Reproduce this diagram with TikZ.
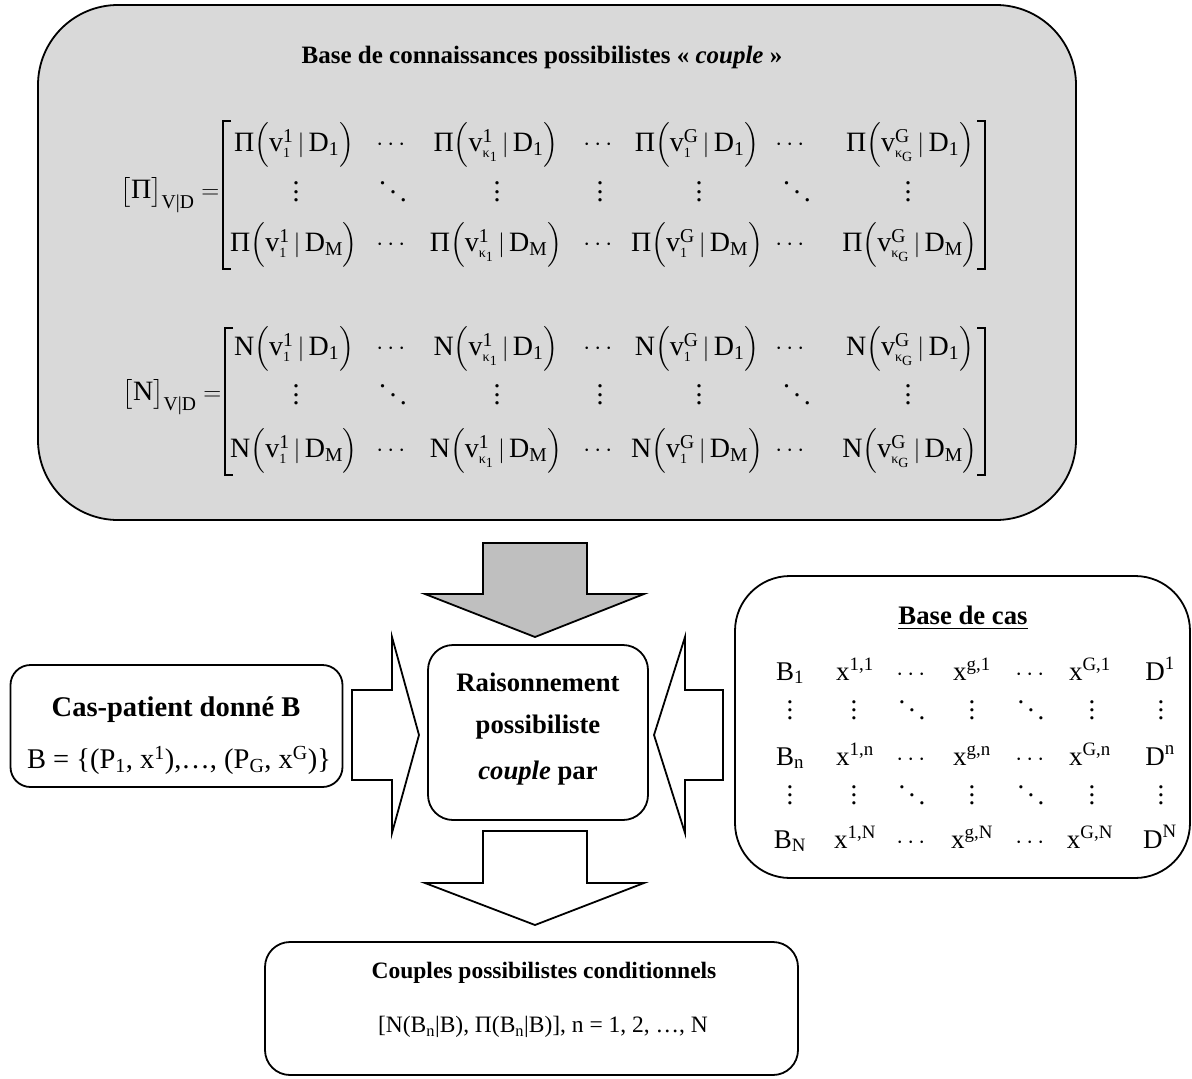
\documentclass[tikz,border=0pt]{standalone}
\usepackage{amsmath}
\usepackage{fontspec}
\setmainfont{Liberation Serif}

\definecolor{kbgray}{RGB}{217,217,217}
\definecolor{arrgray}{RGB}{191,191,191}

% entree de matrice : Op(v^a_b | D_c)
\newcommand{\pent}[4]{\text{#1}\Bigl(\text{v}^{\text{#2}}_{#3}\,|\,\text{D}_{\text{#4}}\Bigr)}
\newcommand{\subone}{\scriptscriptstyle\text{1}}
\newcommand{\subkone}{\scriptscriptstyle\text{κ}_{\text{1}}}
\newcommand{\subkG}{\scriptscriptstyle\text{κ}_{\text{G}}}
% points a l'echelle de la fonte
\newcommand{\vdts}{\vbox{\baselineskip=0.3em\lineskiplimit=0pt\hbox{.}\hbox{.}\hbox{.}}}
\newcommand{\ddts}{\raisebox{0.62em}{.}\kern0.12em\raisebox{0.32em}{.}\kern0.12em\raisebox{0.02em}{.}}

\tikzset{
bigbox/.style={draw,rectangle,line width=1.8pt,fill=white},
blockarrow/.style={draw,line width=1.8pt,line join=miter,fill=white},
brk/.style={line width=1.2pt},
txt/.style={font=\fontsize{#1}{#1}\selectfont,inner sep=0pt},
txt/.default=25,
bold/.style={font=\fontsize{#1}{#1}\selectfont\bfseries,inner sep=0pt},
bold/.default=25,
mtx/.style={font=\fontsize{28}{33}\selectfont,inner sep=0pt},
cas/.style={font=\fontsize{27}{32}\selectfont,inner sep=0pt}
}

\begin{document}
\begin{tikzpicture}[x=1pt,y=-1pt]
\useasboundingbox (0,0) rectangle (1192,1079);

% base de connaissances
\node[bigbox,fill=kbgray,rounded corners=80pt,
minimum width=1038pt,minimum height=515pt](kb) at (557,262.5){};

\node[bold](kbtitle) at (542,57){Base de connaissances possibilistes « \textit{couple} »};

\node[mtx](pilab) at (170,195){$\bigl[\text{Π}\bigr]_{\text{V|D}}=$};
\node[mtx](neclab) at (172,397){$\bigl[\text{N}\bigr]_{\text{V|D}}=$};

\foreach \Op/\nm/\ya/\yb/\yc in {Π/pi/145/192/245, N/nec/349/395/451}{
  \foreach \rw/\Dn/\yy in {1/1/\ya, 3/M/\yc}{
    \foreach \cl/\cx/\vs/\vi in {1/294/1/\subone, 3/496/1/\subkone, 5/697/G/\subone, 7/910/G/\subkG}
      \node[mtx](\nm-\rw-\cl) at (\cx,\yy){$\pent{\Op}{\vs}{\vi}{\Dn}$};
    \foreach \cl/\cx in {2/393, 4/600, 6/792}
      \node[mtx](\nm-\rw-\cl) at (\cx,\yy){$\cdots$};
  }
  \foreach \cl/\cx in {1/296, 3/497, 4/600, 5/699, 7/908}
    \node[mtx](\nm-2-\cl) at (\cx,\yb){\vdts};
  \foreach \cl/\cx in {2/393, 6/797}
    \node[mtx](\nm-2-\cl) at (\cx,\yb){\ddts};
}

% crochets
\draw[brk] (231,121) -- (223,121) -- (223,269) -- (231,269);
\draw[brk] (977,121) -- (985,121) -- (985,269) -- (977,269);
\draw[brk] (233,328) -- (225,328) -- (225,475) -- (233,475);
\draw[brk] (977,328) -- (985,328) -- (985,475) -- (977,475);

% fleche grise
\draw[blockarrow,fill=arrgray] (483,543) -- (587,543) -- (587,594) -- (644,594)
 -- (535,637) -- (425,594) -- (483,594) -- cycle;

% raisonnement
\node[bigbox,rounded corners=25pt,
minimum width=220pt,minimum height=175pt](reason) at (538,732.5){};
\node[bold=26.7](r1) at (538,682){Raisonnement};
\node[bold=26.7](r2) at (538,727){possibiliste};
\node[bold=26.7](r3) at (538,773){\textit{couple} par};

% cas-patient
\node[bigbox,rounded corners=20pt,
minimum width=332pt,minimum height=122pt](patient) at (176.5,726){};
\node[bold=28.5](ptitle) at (176,710){Cas-patient donné B};
\node[txt=28.5](pform) at (179,760){B = \{(P\textsubscript{1}, x\textsuperscript{1}),…, (P\textsubscript{G}, x\textsuperscript{G})\}};

\draw[blockarrow] (352,690) -- (392,690) -- (392,637) -- (419,735)
 -- (392,833) -- (392,780) -- (352,780) -- cycle;

% base de cas
\node[bigbox,rounded corners=55pt,
minimum width=455pt,minimum height=302pt](cases) at (962.5,727){};
\node[bold=26.7](ctitle) at (963,618){\underline{Base de cas}};

\foreach \rw/\yy in {1/680, n/765, N/848}{
  \node[cas,anchor=base](b-\rw-1) at (790,\yy){$\text{B}_{\text{\rw}}$};
  \foreach \cl/\cx/\gi in {2/855/1, 4/972/g, 6/1090/G}
    \node[cas,anchor=base](b-\rw-\cl) at (\cx,\yy){$\text{x}^{\text{\gi,\rw}}$};
  \foreach \cl/\cx in {3/913, 5/1032}
    \node[cas,anchor=base](b-\rw-\cl) at (\cx,\yy){$\cdots$};
  \node[cas,anchor=base](b-\rw-7) at (1160,\yy){$\text{D}^{\text{\rw}}$};
}
\foreach \rw/\yy in {d1/710, d2/795}{
  \foreach \cl/\cx in {1/790, 2/854, 4/972, 6/1092, 7/1161}
    \node[cas](b-\rw-\cl) at (\cx,\yy){\vdts};
  \foreach \cl/\cx in {3/912, 5/1031}
    \node[cas](b-\rw-\cl) at (\cx,\yy){\ddts};
}

\draw[blockarrow] (723,690) -- (685,690) -- (685,637) -- (654,735)
 -- (685,833) -- (685,780) -- (723,780) -- cycle;

% resultat
\draw[blockarrow] (483,831) -- (587,831) -- (587,883) -- (644,883)
 -- (535,925) -- (425,883) -- (483,883) -- cycle;

\node[bigbox,rounded corners=25pt,
minimum width=533pt,minimum height=133pt](result) at (531.5,1008.5){};
\node[bold=23.5](restitle) at (544,973){Couples possibilistes conditionnels};
\node[txt=23.5](resform) at (543,1027){[N(B\textsubscript{n}|B), Π(B\textsubscript{n}|B)], n = 1, 2, …, N};
\end{tikzpicture}
\end{document}
